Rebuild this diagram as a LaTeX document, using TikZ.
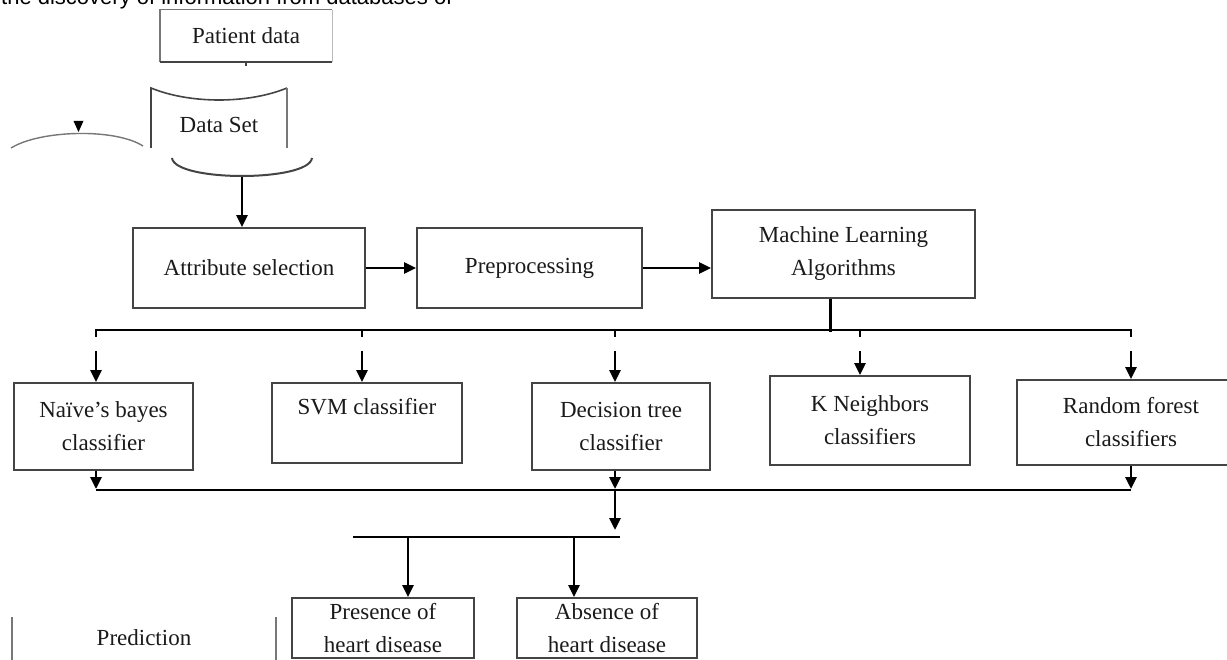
\documentclass[tikz,border=0pt]{standalone}
\usepackage{fontspec}
\setmainfont{Liberation Serif}
\newfontfamily\arialf{Liberation Sans}
\usetikzlibrary{arrows.meta}
\definecolor{boxc}{HTML}{444444}
\definecolor{txtc}{HTML}{1A1A1A}
\definecolor{arcc}{HTML}{777777}
\definecolor{faint}{HTML}{BBBBBB}
\begin{document}
\begin{tikzpicture}[x=1pt,y=-1pt,
  box/.style={draw=boxc,line width=1.8pt,align=center,inner sep=0pt,
    font=\fontsize{23}{33}\selectfont,text=txtc},
  lbl/.style={align=center,inner sep=0pt,font=\fontsize{23}{33}\selectfont,text=txtc},
  conn/.style={line width=2.8pt,draw=black},
  arr/.style={conn,-{Triangle[width=11pt,length=12pt]}},
  thin/.style={line width=1.6pt,draw=boxc},
]
\useasboundingbox (0,0) rectangle (1227,660);
\clip (0,0) rectangle (1227,660);

% clipped running text at the top
\node[font=\arialf\fontsize{22}{26}\selectfont,anchor=base west,inner sep=0pt] (toptext) at (1,5) {the discovery of information from databases of};

% patient data
\node[lbl,minimum width=172pt,minimum height=52pt] (patient) at (246,36) {Patient data};
\draw[line width=1.4pt,draw=arcc] (patient.south west) -- (patient.north west) -- (patient.north east);
\draw[line width=1pt,draw=faint] (patient.north east) -- (patient.south east);
\draw[line width=2pt,draw=boxc] (patient.south west) -- (patient.south east);
\draw[thin] (patient.south) -- ++(0,4);

% data set shape
\draw[thin] (151,148) -- (151,88) .. controls (190,104) and (248,104) .. (287,88);
\draw[line width=1.2pt,draw=arcc] (287,88) -- (287,148);
\node[lbl] (dataset) at (219,125) {Data Set};
\draw[line width=2pt,draw=boxc] (172,158) .. controls (175,182) and (309,182) .. (312,158);
\coordinate (dsb) at (242,177);

% left arc with arrowhead
\draw[line width=1.4pt,draw=arcc] (11,148) .. controls (40,130) and (115,128) .. (143,146);
\fill (73.5,121) -- (83.5,121) -- (78.5,132) -- cycle;

% main row
\node[box,minimum width=232pt,minimum height=80pt] (attr) at (249,268) {Attribute selection};
\node[box,minimum width=225pt,minimum height=80pt] (prep) at (529.5,268) {Preprocessing};
\node[box,minimum width=263pt,minimum height=88pt] (ml) at (843.5,254) {Machine Learning\\Algorithms};

\draw[arr] (dsb) -- (dsb |- attr.north);
\draw[arr] (attr.east) -- (prep.west);
\draw[arr] (prep.east) -- (prep.east -| ml.west);

% classifiers
\node[box,minimum width=179pt,minimum height=87pt] (naive) at (103.5,426.5) {Naïve's bayes\\classifier};
\node[box,minimum width=190pt,minimum height=80pt] (svm) at (367,423) {SVM classifier\\\mbox{}};
\node[box,minimum width=178pt,minimum height=87pt] (dec) at (621,426.5) {Decision tree\\classifier};
\node[box,minimum width=200pt,minimum height=89pt] (kn) at (870,420.5) {K Neighbors\\classifiers};
\node[box,minimum width=228pt,minimum height=85pt] (rf) at (1131,422.5) {Random forest\\classifiers};

% top bus
\coordinate (b1L) at (96,330);
\coordinate (b1R) at (1131,330);
\draw[conn] ([xshift=-13pt]ml.south) -- ++(0,33);
\draw[conn] (b1L) -- (b1R);
\foreach \x/\n in {96/naive,362/svm,615/dec,860/kn,1131/rf}{
  \draw[conn] (\x,329) -- (\x,337);
  \draw[arr] (\x,351) -- (\x,0 |- \n.north);
}

% bottom bus
\coordinate (b2L) at (96,490);
\coordinate (b2R) at (1131,490);
\draw[conn] (b2L) -- (b2R);
\draw[arr] (96,0 |- naive.south) -- (96,489);
\draw[arr] (dec.south -| 615,0) -- (615,489);
\draw[arr] (rf.south) -- (1131,489);
\draw[arr] (615,490) -- (615,530);

% prediction
\node[box,minimum width=182pt,minimum height=60pt] (pres) at (383,628) {Presence of\\heart disease};
\node[box,minimum width=180pt,minimum height=60pt] (abs) at (607,628) {Absence of\\heart disease};
\draw[conn] (353,537) -- (620,537);
\draw[arr] (408,537) -- (408,0 |- pres.north);
\draw[arr] (574,537) -- (574,0 |- abs.north);

\node[lbl] (pred) at (144,638) {Prediction};
\draw[line width=1.6pt,draw=arcc] (12,617) -- (12,662);
\draw[line width=1.6pt,draw=arcc] (276,617) -- (276,662);
\end{tikzpicture}
\end{document}
